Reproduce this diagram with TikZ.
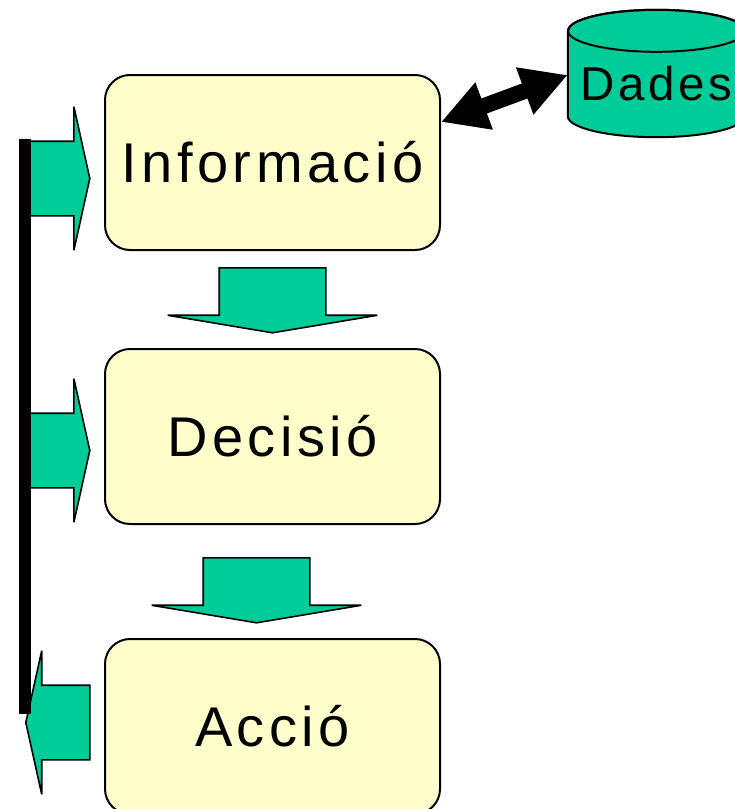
\documentclass[tikz,border=0pt]{standalone}
\usepackage{fontspec}
\setmainfont{Liberation Sans}[LetterSpace = 8]
\usetikzlibrary{positioning, shapes.arrows, arrows.meta, backgrounds}

\definecolor{seagreen}{RGB}{0, 204, 153}
\definecolor{paleyellow}{RGB}{255, 255, 204}

\begin{document}
\begin{tikzpicture}[x = 1pt, y = -1pt,
	stage/.style = {draw, line width = 2pt, rounded corners = 25pt, fill = paleyellow,
		minimum width = 335pt, minimum height = 175pt, inner sep = 0pt,
		font = \fontsize{56}{60}\selectfont},
	flow/.style = {single arrow, draw, line width = 1.6pt, miter limit = 4, fill = seagreen,
		inner xsep = 0pt, single arrow head indent = 0pt},
	down/.style = {flow, rotate = 270, minimum height = 65pt, inner ysep = 52.5pt,
		minimum width = 208pt, single arrow head extend = 51.5pt, single arrow tip angle = 161},
	feed/.style = {flow, minimum height = 64pt, inner ysep = 36.5pt, minimum width = 142pt,
		single arrow head extend = 34.5pt, single arrow tip angle = 155},
	link/.style = {line width = 16pt, {Triangle[length = 46pt, width = 47pt]}-{Triangle[length = 46pt, width = 47pt]}}]

	\useasboundingbox (0, 0) rectangle (735, 809);

	% Stages

	\node [stage] (info) at (272.5, 162.5) {Informació};
	\node [stage, below = 97pt of info] (deci) {Decisió};
	\node [stage, below = 113pt of deci] (acci) {Acció};

	% Flow between stages

	\node [down, anchor = tail] (flow1) at ([yshift = -16pt] info.south) {};
	\node [down, anchor = tail] (flow2) at ([xshift = -16pt, yshift = -32pt] deci.south) {};

	% Database

	\node [inner sep = 0pt, minimum width = 177pt, minimum height = 106pt,
		font = \fontsize{47.5}{50}\selectfont] (dades) at (656.5, 84) {Dades};
	\begin{scope}[on background layer]
		\draw [line width = 2pt, fill = seagreen] (dades.north west) -- ([yshift = 21pt] dades.south west)
			arc [start angle = 180, end angle = 360, x radius = 88.5pt, y radius = 21pt]
			-- (dades.north east)
			arc [start angle = 0, end angle = 180, x radius = 88.5pt, y radius = 21pt] -- cycle;
		\draw [line width = 2pt] (dades.north) ellipse [x radius = 88.5pt, y radius = 21pt];
	\end{scope}

	\draw [link] ([yshift = 40.5pt] info.east) -- ([yshift = 9pt] dades.west);

	% Feedback

	\coordinate (bartop) at (25, 139);
	\coordinate (barbot) at (25, 714);

	\node [feed, anchor = tail] (fb1) at (bartop |- 0, 178.5) {};
	\node [feed, anchor = tail] (fb2) at (bartop |- 0, 450.5) {};
	\node [feed, rotate = 180, anchor = tip] (fb3) at (barbot |- 0, 722.5) {};

	\draw [line width = 12pt] (bartop) -- (barbot);

\end{tikzpicture}
\end{document}
